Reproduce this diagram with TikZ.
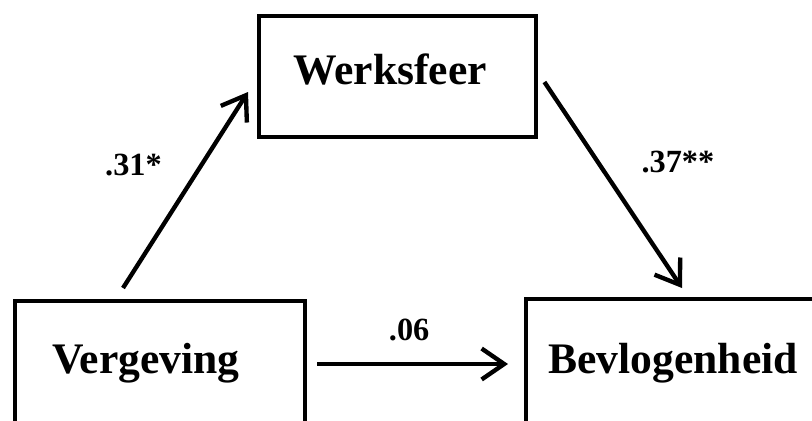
\documentclass[tikz,border=0pt]{standalone}
\usepackage{fontspec}
\setmainfont{Liberation Serif}
\usepackage{tikz}
\usetikzlibrary{arrows.meta}

\tikzset{
  box/.style={draw,line width=3.1pt,inner sep=0pt,anchor=north west},
  vartext/.style={font=\fontsize{31}{36}\selectfont\bfseries,inner sep=0pt,anchor=base},
  arr/.style={line width=3.1pt,-{Straight Barb[length=16pt,width=22pt,line width=3.1pt]}},
  lbl/.style={font=\fontsize{23}{28}\selectfont\bfseries,inner sep=0pt}
}

\begin{document}
\begin{tikzpicture}[x=0.025cm,y=0.025cm]
  \useasboundingbox (0,0) rectangle (812,-421);
  \clip (0,0) rectangle (812,-421);

  \node (werk) [box,minimum width=6.925cm,minimum height=3.025cm] at (257,-14) {};
  \node (verg) [box,minimum width=7.25cm,minimum height=4cm] at (13,-299) {};
  \node (bevl) [box,minimum width=7.5cm,minimum height=4cm] at (524,-297) {};

  \node (werkt) [vartext] at ([shift={(133,-71)}]werk.north west) {Werksfeer};
  \node (vergt) [vartext] at ([shift={(133,-74)}]verg.north west) {Vergeving};
  \node (bevlt) [vartext] at ([shift={(149,-76)}]bevl.north west) {Bevlogenheid};

  \draw[arr] ([shift={(110,11)}]verg.north west) -- ([shift={(-9,-78)}]werk.north west)
    node [lbl,midway,xshift=-37pt,yshift=18pt] {.31*};
  \draw[arr] ([shift={(6,-68)}]werk.north east) -- ([shift={(158,9)}]bevl.north west)
    node [lbl,midway,xshift=46pt,yshift=16pt] {.37**};
  \draw[arr] ([shift={(10,-65)}]verg.north east) -- ([shift={(-16,-67)}]bevl.north west)
    node [lbl,midway,xshift=-2.5pt,yshift=24pt] {.06};
\end{tikzpicture}
\end{document}
